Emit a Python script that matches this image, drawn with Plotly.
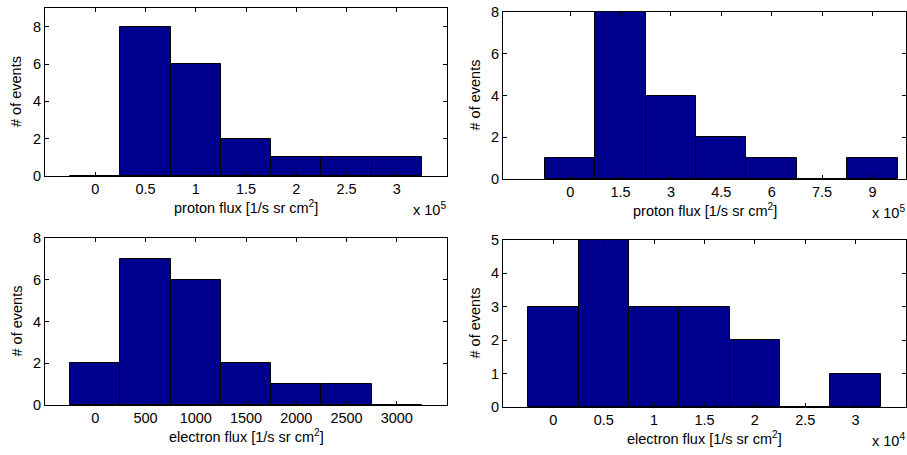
import plotly.graph_objects as go

W, H = 907, 455

# ---- data ----
p1_centers = [0, 0.5e5, 1.0e5, 1.5e5, 2.0e5, 2.5e5, 3.0e5]
p1_counts = [0, 8, 6, 2, 1, 1, 1]
p1_ticks = [0, 0.5e5, 1.0e5, 1.5e5, 2.0e5, 2.5e5, 3.0e5]
p1_ticktext = ["0", "0.5", "1", "1.5", "2", "2.5", "3"]

p2_centers = [0, 1.5e5, 3.0e5, 4.5e5, 6.0e5, 7.5e5, 9.0e5]
p2_counts = [1, 8, 4, 2, 1, 0, 1]
p2_ticks = [0, 1.5e5, 3.0e5, 4.5e5, 6.0e5, 7.5e5, 9.0e5]
p2_ticktext = ["0", "1.5", "3", "4.5", "6", "7.5", "9"]

e1_centers = [0, 500, 1000, 1500, 2000, 2500, 3000]
e1_counts = [2, 7, 6, 2, 1, 1, 0]
e1_ticks = [0, 500, 1000, 1500, 2000, 2500, 3000]
e1_ticktext = ["0", "500", "1000", "1500", "2000", "2500", "3000"]

e2_centers = [0, 0.5e4, 1.0e4, 1.5e4, 2.0e4, 2.5e4, 3.0e4]
e2_counts = [3, 5, 3, 3, 2, 0, 1]
e2_ticks = [0, 0.5e4, 1.0e4, 1.5e4, 2.0e4, 2.5e4, 3.0e4]
e2_ticktext = ["0", "0.5", "1", "1.5", "2", "2.5", "3"]

panels = [
    # centers, counts, width, ticks, ticktext, xrange, yrange, yticks, xlabel, exponent, box px (x0,x1,ytop,ybot)
    (p1_centers, p1_counts, 0.5e5, p1_ticks, p1_ticktext, [-0.5e5, 3.5e5], [0, 9], [0, 2, 4, 6, 8],
     "proton flux [1/s sr cm<sup>2</sup>]", "x 10<sup>5</sup>", (45, 447, 8, 176)),
    (p2_centers, p2_counts, 1.5e5, p2_ticks, p2_ticktext, [-2e5, 10e5], [0, 8], [0, 2, 4, 6, 8],
     "proton flux [1/s sr cm<sup>2</sup>]", "x 10<sup>5</sup>", (503, 906, 12, 179)),
    (e1_centers, e1_counts, 500, e1_ticks, e1_ticktext, [-500, 3500], [0, 8], [0, 2, 4, 6, 8],
     "electron flux [1/s sr cm<sup>2</sup>]", None, (45, 447, 238, 405)),
    (e2_centers, e2_counts, 0.5e4, e2_ticks, e2_ticktext, [-0.5e4, 3.5e4], [0, 5], [0, 1, 2, 3, 4, 5],
     "electron flux [1/s sr cm<sup>2</sup>]", "x 10<sup>4</sup>", (503, 906, 240, 407)),
]

FONT = "Liberation Sans, Arial, Helvetica, sans-serif"
FS = 14.5
fig = go.Figure()
annotations = []
layout = {}

for i, (cx, cy, wd, tv, tt, xr, yr, ytv, xlab, expo, box) in enumerate(panels):
    n = "" if i == 0 else str(i + 1)
    x0, x1, yt, yb = box
    fig.add_trace(go.Bar(
        x=cx, y=cy, width=[wd] * len(cx),
        marker=dict(color="#00008F", line=dict(color="black", width=1)),
        xaxis="x" + n, yaxis="y" + n, showlegend=False, hoverinfo="x+y",
    ))
    common = dict(showline=True, linecolor="black", linewidth=1, mirror="ticks",
                  ticks="inside", ticklen=4, tickcolor="black", showgrid=False,
                  zeroline=False, tickfont=dict(family=FONT, size=FS, color="black"),
                  fixedrange=True, automargin=False)
    layout["xaxis" + n] = dict(domain=[x0 / W, x1 / W], range=xr, tickvals=tv, ticktext=tt,
                               anchor="y" + n, **common)
    layout["yaxis" + n] = dict(domain=[1 - yb / H, 1 - yt / H], range=yr, tickvals=ytv,
                               anchor="x" + n, **common)
    # x label
    annotations.append(dict(text=xlab, x=(x0 + x1) / 2 / W, y=1 - (yb + 31) / H,
                            xref="paper", yref="paper", showarrow=False,
                            xanchor="center", yanchor="middle",
                            font=dict(family=FONT, size=FS, color="black")))
    # y label
    annotations.append(dict(text="# of events", x=(x0 - 29) / W, y=1 - (yt + yb) / 2 / H,
                            xref="paper", yref="paper", showarrow=False, textangle=-90,
                            xanchor="center", yanchor="middle",
                            font=dict(family=FONT, size=FS, color="black")))
    if expo:
        annotations.append(dict(text=expo, x=(x1 + 1) / W, y=1 - (yb + 33) / H,
                                xref="paper", yref="paper", showarrow=False,
                                xanchor="right", yanchor="middle",
                                font=dict(family=FONT, size=FS, color="black")))

fig.update_layout(
    width=W, height=H, margin=dict(l=0, r=0, t=0, b=0, autoexpand=False),
    paper_bgcolor="white", plot_bgcolor="white", bargap=0,
    annotations=annotations, **layout,
)
fig.write_html("out.html", config={"displayModeBar": False},
               post_script="document.body.style.margin='0';document.body.style.overflow='hidden';")
